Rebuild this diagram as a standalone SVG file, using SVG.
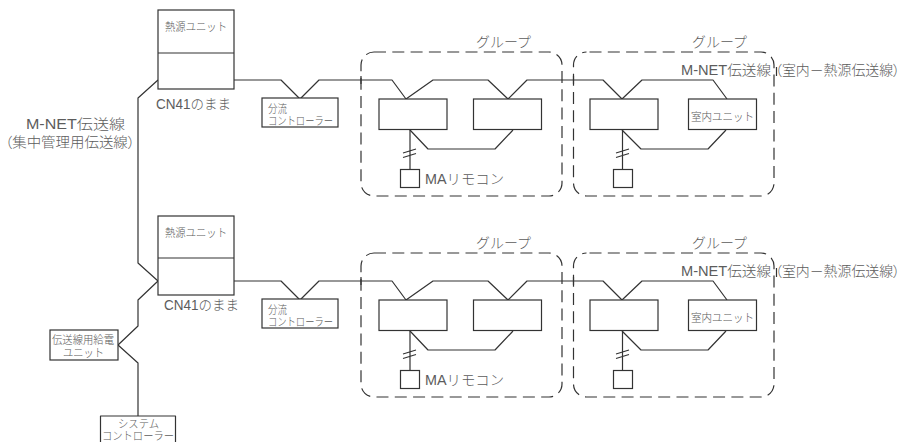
<svg xmlns="http://www.w3.org/2000/svg" width="901" height="442" viewBox="0 0 901 442">
<style>
.b{fill:#fff;stroke:#333;stroke-width:1.2}
.w{fill:none;stroke:#333;stroke-width:1.2;stroke-linejoin:round}
.d{fill:none;stroke:#333;stroke-width:1.2;stroke-dasharray:12 6.300}
.e{stroke-dashoffset:-3}
text{font-family:"Liberation Sans","Noto Sans CJK JP",sans-serif;fill:#5c5c5c;font-weight:300}
.s{font-size:11.500px}
.m{font-size:14px}
.p{font-feature-settings:"palt"}
</style>
<rect width="901" height="442" fill="#fff"/>
<g id="groups">
<rect id="group-1" class="d" x="361" y="52" width="201" height="144" rx="13"/>
<rect id="group-2" class="d e" x="573.500" y="52" width="200.500" height="144" rx="13"/>
<rect id="group-3" class="d" x="361" y="253" width="201" height="144" rx="13"/>
<rect id="group-4" class="d e" x="573.500" y="253" width="200.500" height="144" rx="13"/>
</g>
<g id="connectors">
<path class="w" d="M234 80H281L300 99L319 80H392L406 99L433 80H488L508 99L527 80H603L622 99L642 80H713L727 99"/>
<path class="w" d="M158 80L138 98V263L158 281L138 300V326L118 345L138 363V416"/>
<path class="w" d="M234 281H281L300 300L319 281H392L406 300L433 281H488L508 300L527 281H603L622 300L642 281H713L727 300"/>
<path class="w" d="M410 130L428 149H495L513 130"/>
<path class="w" d="M622 130L641 149H708L726 130"/>
<path class="w" d="M410 331L428 350H495L513 331"/>
<path class="w" d="M622 331L641 350H708L726 331"/>
<path class="w" d="M410 130V169M403 153L416 149M403 157.500L416 153.500"/>
<path class="w" d="M622.500 130V169M616 153L629 149M616 157.500L629 153.500"/>
<path class="w" d="M410 331V370M403 354L416 350M403 358.500L416 354.500"/>
<path class="w" d="M622.500 331V370M616 354L629 350M616 358.500L629 354.500"/>
<path class="w" d="M361 76V84M573.500 76V84M361 277V285M573.500 277V285M776.500 67V76M776.500 268V277"/>
</g>
<g id="heat-unit-1"><rect class="b" x="158" y="10" width="76" height="79"/><path class="w" d="M158 53H234"/><text class="s" x="165" y="31" textLength="62" lengthAdjust="spacingAndGlyphs">熱源ユニット</text></g>
<g id="heat-unit-2"><rect class="b" x="158" y="216" width="76" height="79"/><path class="w" d="M158 258H234"/><text class="s" x="165" y="237" textLength="62" lengthAdjust="spacingAndGlyphs">熱源ユニット</text></g>
<g id="branch-1"><rect class="b" x="262" y="98" width="76" height="29"/><text class="s" x="268" y="112.500" textLength="19" lengthAdjust="spacingAndGlyphs">分流</text><text class="s" x="268" y="125" textLength="65" lengthAdjust="spacingAndGlyphs">コントローラー</text></g>
<g id="branch-2"><rect class="b" x="262" y="299" width="76" height="29"/><text class="s" x="268" y="313.500" textLength="19" lengthAdjust="spacingAndGlyphs">分流</text><text class="s" x="268" y="326" textLength="65" lengthAdjust="spacingAndGlyphs">コントローラー</text></g>
<g id="power-unit"><rect class="b" x="50" y="330" width="68" height="30"/><text class="s" x="52" y="343.500" textLength="62" lengthAdjust="spacingAndGlyphs">伝送線用給電</text><text class="s" x="63" y="357" textLength="41" lengthAdjust="spacingAndGlyphs">ユニット</text></g>
<g id="system-controller"><path class="w" d="M100.500 442V416H175.500V442"/><text class="s" x="118" y="428" textLength="41" lengthAdjust="spacingAndGlyphs">システム</text><text class="s" x="102" y="439.500" textLength="72" lengthAdjust="spacingAndGlyphs">コントローラー</text></g>
<g id="indoor-1a"><rect class="b" x="379" y="99" width="68" height="30.500"/></g>
<g id="indoor-1b"><rect class="b" x="473.500" y="99" width="68" height="30.500"/></g>
<g id="indoor-2a"><rect class="b" x="590" y="99" width="68" height="30.500"/></g>
<g id="indoor-2b"><rect class="b" x="688.500" y="99" width="68" height="30.500"/><text class="s" x="691" y="121" textLength="63" lengthAdjust="spacingAndGlyphs">室内ユニット</text></g>
<g id="indoor-3a"><rect class="b" x="379" y="300" width="68" height="30.500"/></g>
<g id="indoor-3b"><rect class="b" x="473.500" y="300" width="68" height="30.500"/></g>
<g id="indoor-4a"><rect class="b" x="590" y="300" width="68" height="30.500"/></g>
<g id="indoor-4b"><rect class="b" x="688.500" y="300" width="68" height="30.500"/><text class="s" x="691" y="322" textLength="63" lengthAdjust="spacingAndGlyphs">室内ユニット</text></g>
<g id="remote-1"><rect class="b" x="400.500" y="169.500" width="19" height="18"/><text class="m" x="425" y="184" textLength="79" lengthAdjust="spacingAndGlyphs">MAリモコン</text></g>
<g id="remote-2"><rect class="b" x="613.500" y="169.500" width="19" height="18"/></g>
<g id="remote-3"><rect class="b" x="400.500" y="370.500" width="19" height="18"/><text class="m" x="425" y="385" textLength="79" lengthAdjust="spacingAndGlyphs">MAリモコン</text></g>
<g id="remote-4"><rect class="b" x="613.500" y="370.500" width="19" height="18"/></g>
<g id="labels">
<text class="m" x="26" y="129" textLength="99" lengthAdjust="spacingAndGlyphs">M-NET伝送線</text>
<text class="m p" x="5" y="147" textLength="130" lengthAdjust="spacingAndGlyphs">（集中管理用伝送線）</text>
<text class="m" x="156" y="109" textLength="75" lengthAdjust="spacingAndGlyphs">CN41のまま</text>
<text class="m" x="164" y="310" textLength="75" lengthAdjust="spacingAndGlyphs">CN41のまま</text>
<text class="m" x="476" y="47" textLength="55" lengthAdjust="spacingAndGlyphs">グループ</text>
<text class="m" x="692" y="47" textLength="55" lengthAdjust="spacingAndGlyphs">グループ</text>
<text class="m" x="476" y="248" textLength="55" lengthAdjust="spacingAndGlyphs">グループ</text>
<text class="m" x="692" y="248" textLength="55" lengthAdjust="spacingAndGlyphs">グループ</text>
<text class="m" x="681" y="75" textLength="90" lengthAdjust="spacingAndGlyphs">M-NET伝送線</text>
<text class="m p" x="775" y="75" textLength="125" lengthAdjust="spacingAndGlyphs">（室内－熱源伝送線）</text>
<text class="m" x="681" y="276" textLength="90" lengthAdjust="spacingAndGlyphs">M-NET伝送線</text>
<text class="m p" x="775" y="276" textLength="125" lengthAdjust="spacingAndGlyphs">（室内－熱源伝送線）</text>
</g>
</svg>
